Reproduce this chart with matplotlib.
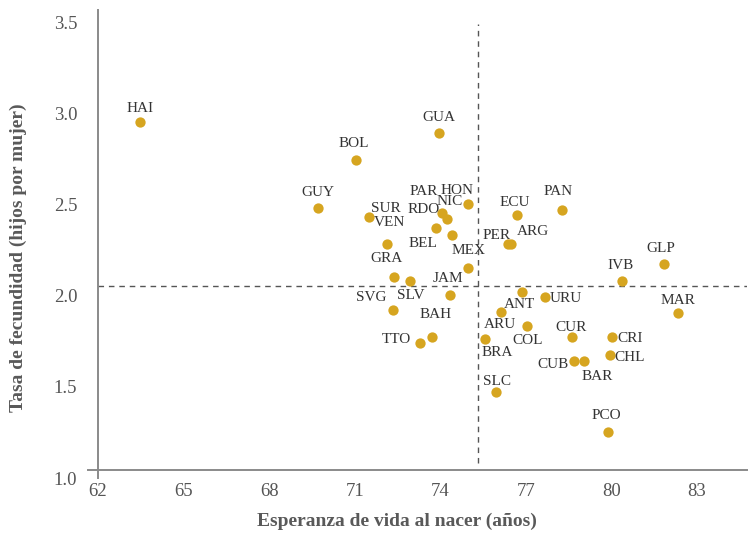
import matplotlib.pyplot as plt
import matplotlib.transforms as mtransforms

plt.rcParams['font.family'] = ['Liberation Serif', 'DejaVu Serif']

# codigos de pais
paises = ['HAI', 'GUA', 'BOL', 'GUY', 'SUR', 'HON', 'PAR', 'NIC', 'RDO', 'BEL',
          'VEN', 'MEX', 'GRA', 'SLV', 'JAM', 'SVG', 'BAH', 'TTO', 'BRA', 'ECU',
          'PAN', 'PER', 'ARG', 'GLP', 'IVB', 'ANT', 'URU', 'MAR', 'ARU', 'COL',
          'CUR', 'CRI', 'CHL', 'CUB', 'BAR', 'SLC', 'PCO']
# esperanza de vida al nacer (anos)
esperanza = [63.47, 73.95, 71.04, 69.72, 71.50, 74.98, 74.07, 74.22, 73.84, 74.41,
             72.13, 74.98, 72.39, 72.94, 74.33, 72.35, 73.72, 73.29, 75.56, 76.70,
             78.26, 76.37, 76.48, 81.85, 80.37, 76.85, 77.68, 82.32, 76.11, 77.03,
             78.62, 80.01, 79.95, 78.69, 79.05, 75.95, 79.89]
# tasa de fecundidad (hijos por mujer)
fecundidad = [2.91, 2.85, 2.70, 2.44, 2.39, 2.46, 2.41, 2.38, 2.33, 2.29,
              2.24, 2.11, 2.06, 2.04, 1.96, 1.88, 1.73, 1.70, 1.72, 2.40,
              2.43, 2.24, 2.24, 2.13, 2.04, 1.98, 1.95, 1.86, 1.87, 1.79,
              1.73, 1.73, 1.63, 1.60, 1.60, 1.43, 1.21]
media_esperanza = 75.31
media_fecundidad = 2.01

x_ticks = [62, 65, 68, 71, 74, 77, 80, 83]
y_ticks = [1.0, 1.5, 2.0, 2.5, 3.0, 3.5]
y_tick_labels = ['1.0', '1.5', '2.0', '2.5', '3.0', '3.5']

# desplazamiento de etiquetas en pixeles (dx, dy hacia abajo)
offsets = {
    'HAI': (0, -14), 'GUA': (0, -16), 'BOL': (-2, -17), 'GUY': (0, -15),
    'SUR': (17, -8), 'HON': (-11, -14), 'PAR': (-19, -22), 'NIC': (3, -17),
    'RDO': (-12, -18), 'BEL': (-29, 8), 'VEN': (3, -22), 'MEX': (0, -17),
    'GRA': (-8, -18), 'SLV': (1, 15), 'JAM': (-2, -17), 'SVG': (-22, -12),
    'BAH': (3, -23), 'TTO': (-24, -3), 'BRA': (12, 14), 'ECU': (-3, -13),
    'PAN': (-4, -18), 'PER': (-11, -9), 'ARG': (22, -13), 'GLP': (-3, -16),
    'IVB': (-2, -15), 'ANT': (-2, 13), 'URU': (20, 1), 'MAR': (0, -13),
    'ARU': (-1, 13), 'COL': (1, 14), 'CUR': (-1, -10), 'CRI': (18, 1),
    'CHL': (20, 2), 'CUB': (-21, 4), 'BAR': (13, 16), 'SLC': (1, -10),
    'PCO': (-2, -16),
}

fig = plt.figure(figsize=(7.49, 5.35), dpi=100)
ax = fig.add_axes([0.1179, 0.1065, 0.8794, 0.8748])

ax.vlines(media_esperanza, 1.04, 3.45, color='#555555', lw=1.0, ls=(0, (4, 3.5)), zorder=1)
ax.hlines(media_fecundidad, 62, 84.75, color='#555555', lw=1.0, ls=(0, (4, 3.5)), zorder=1)
ax.scatter(esperanza, fecundidad, s=55, color='#D6A520', linewidths=0, zorder=3)

for nombre, xv, yv in zip(paises, esperanza, fecundidad):
    dx, dy = offsets[nombre]
    ax.annotate(nombre, (xv, yv), xytext=(dx, -dy), textcoords='offset pixels',
                ha='center', va='center', fontsize=11, color='#333333', zorder=4)

ax.set_xlim(61.66, 84.75)
ax.set_ylim(0.956, 3.526)
ax.spines['left'].set_position(('data', 62))
ax.spines['bottom'].set_position(('data', 1.0))
ax.spines['top'].set_visible(False)
ax.spines['right'].set_visible(False)
for s in ['left', 'bottom']:
    ax.spines[s].set_color('#8a8a8a')
    ax.spines[s].set_linewidth(1.4)

ax.set_xticks(x_ticks)
ax.set_yticks(y_ticks, labels=y_tick_labels)
ax.tick_params(length=0, labelsize=13.5, labelcolor='#555555')
ax.tick_params(axis='x', pad=9)
ax.tick_params(axis='y', pad=15)
shift = mtransforms.ScaledTranslation(0, -8 / 100, fig.dpi_scale_trans)
for lbl in ax.get_yticklabels():
    lbl.set_transform(lbl.get_transform() + shift)

fig.text(397 / 749, 1 - 521 / 535, 'Esperanza de vida al nacer (años)',
         ha='center', va='center', fontsize=14, fontweight='bold', color='#595959')
fig.text(18 / 749, 1 - 258 / 535, 'Tasa de fecundidad (hijos por mujer)',
         ha='center', va='center', rotation=90, fontsize=14, fontweight='bold',
         color='#595959')

fig.savefig('out.png', dpi=100)
